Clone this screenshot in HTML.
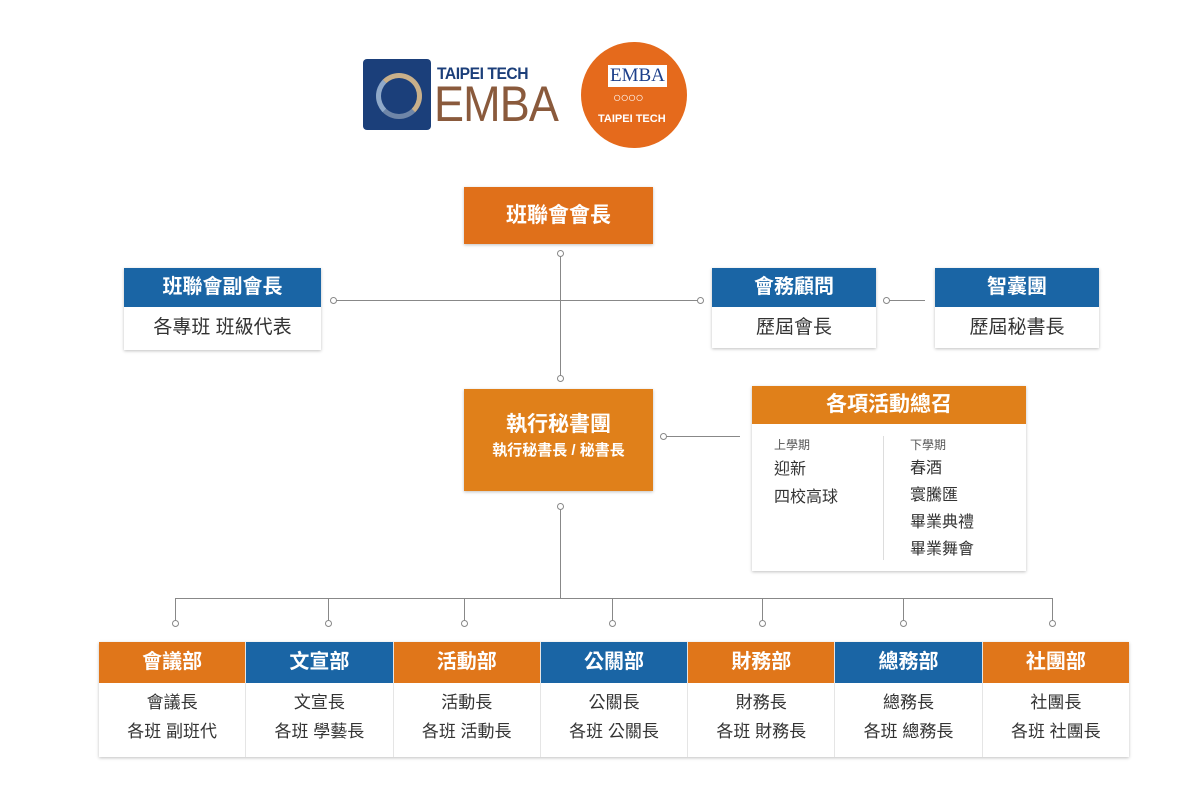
<!DOCTYPE html>
<html><head><meta charset="utf-8"><style>
body{margin:0;width:1200px;height:801px;background:#fff;position:relative;overflow:hidden;font-family:"Liberation Sans","Noto Sans CJK TC",sans-serif}
.a{position:absolute}
.box{position:absolute;box-shadow:0 1px 3px rgba(0,0,0,.25);background:#fff}
.hd{color:#fff;font-weight:bold;text-align:center}
.o{background:#e0761a}.b{background:#1a65a5}
.ln{position:absolute;background:#888}
.c{position:absolute;width:5px;height:5px;border:1px solid #888;border-radius:50%;background:#fff}
.t{text-align:center;color:#333}
</style></head><body>
<!-- logos -->
<div class="a" style="left:363px;top:59px;width:68px;height:71px;background:#1b3f7a;border-radius:4px"></div>
<div class="a" style="left:376px;top:73px;width:36px;height:36px;border:5px solid #c9b08a;border-radius:50%;border-left-color:#8fa9c9;border-bottom-color:#6f86a8"></div>
<div class="a" style="left:437px;top:64px;font-size:17px;font-weight:bold;color:#1c3f7a;letter-spacing:-0.5px;transform:scaleX(0.92);transform-origin:left">TAIPEI TECH</div>
<div class="a" style="left:434px;top:76px;font-size:50px;color:#8a5a3c;letter-spacing:-1px;line-height:56px;transform:scaleX(0.9);transform-origin:left">EMBA</div>
<div class="a" style="left:581px;top:42px;width:106px;height:106px;border-radius:50%;background:#e56a1c"></div>
<div class="a" style="left:608px;top:65px;font-size:19px;color:#1c3f8a;font-family:'Liberation Serif',serif;background:#fff;padding:0 2px;line-height:22px">EMBA</div>
<div class="a" style="left:613px;top:89px;font-size:14px;color:#fff;letter-spacing:-1px">○○○○</div>
<div class="a" style="left:598px;top:113px;font-size:11px;color:#fff;font-weight:bold">TAIPEI TECH</div>

<!-- lines -->
<div class="ln" style="left:560px;top:253px;width:1px;height:125px"></div>
<div class="ln" style="left:333px;top:300px;width:367px;height:1px"></div>
<div class="ln" style="left:886px;top:300px;width:39px;height:1px"></div>
<div class="ln" style="left:663px;top:436px;width:77px;height:1px"></div>
<div class="ln" style="left:560px;top:506px;width:1px;height:92px"></div>
<div class="ln" style="left:175px;top:598px;width:878px;height:1px"></div>
<div class="ln" style="left:175px;top:598px;width:1px;height:23px"></div>
<div class="ln" style="left:328px;top:598px;width:1px;height:23px"></div>
<div class="ln" style="left:464px;top:598px;width:1px;height:23px"></div>
<div class="ln" style="left:612px;top:598px;width:1px;height:23px"></div>
<div class="ln" style="left:762px;top:598px;width:1px;height:23px"></div>
<div class="ln" style="left:903px;top:598px;width:1px;height:23px"></div>
<div class="ln" style="left:1052px;top:598px;width:1px;height:23px"></div>
<div class="c" style="left:557px;top:250px"></div>
<div class="c" style="left:557px;top:375px"></div>
<div class="c" style="left:330px;top:297px"></div>
<div class="c" style="left:697px;top:297px"></div>
<div class="c" style="left:883px;top:297px"></div>
<div class="c" style="left:660px;top:433px"></div>
<div class="c" style="left:557px;top:503px"></div>
<div class="c" style="left:172px;top:620px"></div>
<div class="c" style="left:325px;top:620px"></div>
<div class="c" style="left:461px;top:620px"></div>
<div class="c" style="left:609px;top:620px"></div>
<div class="c" style="left:759px;top:620px"></div>
<div class="c" style="left:900px;top:620px"></div>
<div class="c" style="left:1049px;top:620px"></div>

<!-- top -->
<div class="box hd" style="left:464px;top:187px;width:189px;height:57px;line-height:57px;font-size:21px;background:#e0701a">班聯會會長</div>
<div class="box" style="left:124px;top:268px;width:197px;height:82px">
<div class="hd b" style="height:39px;line-height:39px;font-size:20px">班聯會副會長</div>
<div class="t" style="line-height:42px;font-size:19px">各專班 班級代表</div></div>
<div class="box" style="left:712px;top:268px;width:164px;height:80px">
<div class="hd b" style="height:39px;line-height:39px;font-size:20px">會務顧問</div>
<div class="t" style="line-height:41px;font-size:19px">歷屆會長</div></div>
<div class="box" style="left:935px;top:268px;width:164px;height:80px">
<div class="hd b" style="height:39px;line-height:39px;font-size:20px">智囊團</div>
<div class="t" style="line-height:41px;font-size:19px">歷屆秘書長</div></div>
<div class="box hd" style="left:464px;top:389px;width:189px;height:102px;background:#e0801a">
<div style="font-size:21px;margin-top:22px;line-height:28px">執行秘書團</div>
<div style="font-size:15px;line-height:24px">執行秘書長 / 秘書長</div></div>
<div class="box" style="left:752px;top:386px;width:274px;height:185px">
<div class="hd" style="background:#e0801a;height:38px;line-height:38px;font-size:21px">各項活動總召</div>
<div class="a" style="left:131px;top:50px;width:1px;height:124px;background:#ddd"></div>
<div class="a" style="left:22px;top:50px;color:#555;font-size:12px">上學期</div>
<div class="a" style="left:22px;top:70px;color:#333;font-size:16px;line-height:28px">迎新<br>四校高球</div>
<div class="a" style="left:158px;top:50px;color:#555;font-size:12px">下學期</div>
<div class="a" style="left:158px;top:69px;color:#333;font-size:16px;line-height:27px">春酒<br>寰騰匯<br>畢業典禮<br>畢業舞會</div>
</div>

<!-- bottom -->
<div class="box" style="left:99px;top:642px;width:1030px;height:115px;display:flex">
<div style="flex:1;border-right:1px solid #e5e5e5"><div class="hd o" style="height:41px;line-height:41px;font-size:20px">會議部</div><div class="t" style="font-size:17px;line-height:29px;padding-top:5px">會議長<br>各班 副班代</div></div>
<div style="flex:1;border-right:1px solid #e5e5e5"><div class="hd b" style="height:41px;line-height:41px;font-size:20px">文宣部</div><div class="t" style="font-size:17px;line-height:29px;padding-top:5px">文宣長<br>各班 學藝長</div></div>
<div style="flex:1;border-right:1px solid #e5e5e5"><div class="hd o" style="height:41px;line-height:41px;font-size:20px">活動部</div><div class="t" style="font-size:17px;line-height:29px;padding-top:5px">活動長<br>各班 活動長</div></div>
<div style="flex:1;border-right:1px solid #e5e5e5"><div class="hd b" style="height:41px;line-height:41px;font-size:20px">公關部</div><div class="t" style="font-size:17px;line-height:29px;padding-top:5px">公關長<br>各班 公關長</div></div>
<div style="flex:1;border-right:1px solid #e5e5e5"><div class="hd o" style="height:41px;line-height:41px;font-size:20px">財務部</div><div class="t" style="font-size:17px;line-height:29px;padding-top:5px">財務長<br>各班 財務長</div></div>
<div style="flex:1;border-right:1px solid #e5e5e5"><div class="hd b" style="height:41px;line-height:41px;font-size:20px">總務部</div><div class="t" style="font-size:17px;line-height:29px;padding-top:5px">總務長<br>各班 總務長</div></div>
<div style="flex:1"><div class="hd o" style="height:41px;line-height:41px;font-size:20px">社團部</div><div class="t" style="font-size:17px;line-height:29px;padding-top:5px">社團長<br>各班 社團長</div></div>
</div>
</body></html>
